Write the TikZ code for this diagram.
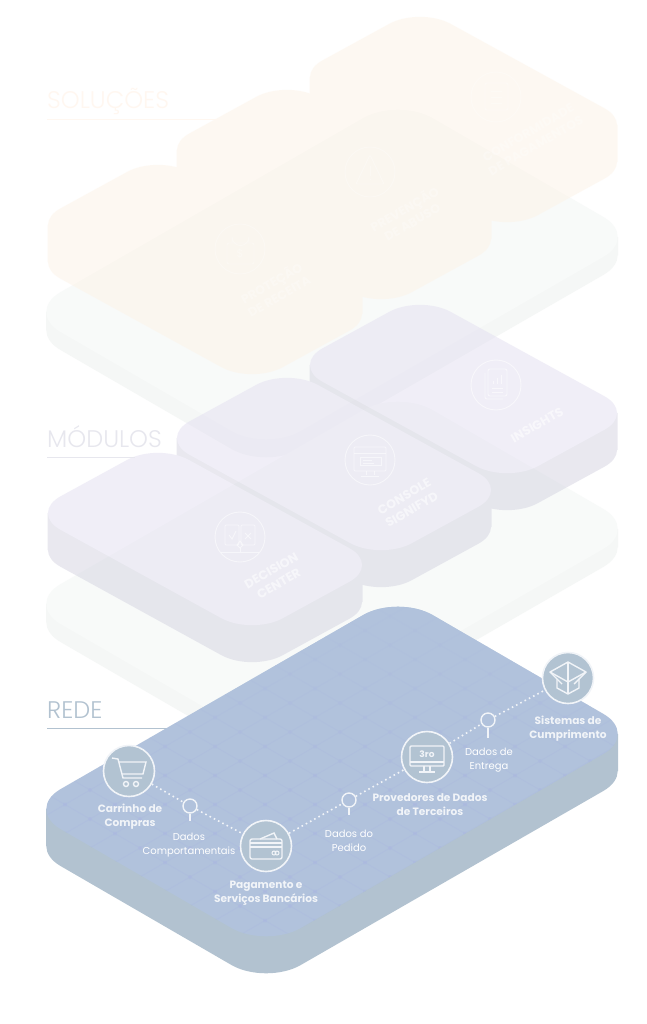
\documentclass[tikz,border=0pt]{standalone}
\usepackage{fontspec}
\setmainfont{Poppins}
\newfontfamily\headfont{Poppins Light}
\usetikzlibrary{calc, positioning, fadings}

\definecolor{greytop}{HTML}{F8FAF9}
\definecolor{greyside}{HTML}{F5F7F6}
\definecolor{creamface}{HTML}{FDF3E7}
\definecolor{violettop}{HTML}{E3DFF1}
\definecolor{violetside}{HTML}{D4D3E1}
\definecolor{redetop}{HTML}{B1C2DC}
\definecolor{redeside}{HTML}{B2C2D0}
\definecolor{redegrid}{HTML}{ABB8E0}
\definecolor{redecircle}{HTML}{B2C3D2}
\definecolor{ringwhite}{HTML}{F1F4F8}

% left corner, up vector, down vector, depth, radius, top, side
\newcommand{\isotile}[7]{
    \fill[#7, rounded corners=#5pt] ($(#1)+(0,#4)$) -- ++(#2) -- ++(#3) -- ++($(0,0)-(#2)$) -- cycle;
    \fill[#7] ($(#1)+(0.5*#5,0)$) -- ++(0,#4) -- ($(#1)+(#2)+(#3)+(-0.5*#5,#4)$) -- ++(0,-#4) -- cycle;
    \fill[#6, rounded corners=#5pt] (#1) -- ++(#2) -- ++(#3) -- ++($(0,0)-(#2)$) -- cycle;
}

\tikzset{
    redering/.style={circle, draw=ringwhite, fill=redecircle, line width=1.6pt, minimum size=51pt, inner sep=0pt},
    pinhead/.style={circle, draw=ringwhite, line width=1.4pt, minimum size=14pt, inner sep=0pt},
    pinstem/.style={draw=ringwhite, line width=1.4pt},
    dotline/.style={draw=ringwhite, line width=1.6pt, dash pattern=on 1.6pt off 3.2pt},
    boldlabel/.style={text=ringwhite, align=center, inner sep=0pt, font=\bfseries\fontsize{10.6}{14}\selectfont},
    thinlabel/.style={text=white, align=center, inner sep=0pt, font=\fontsize{10}{14}\selectfont},
    tilering/.style={circle, draw=white, draw opacity=0.55, line width=0.9pt, minimum size=50pt, inner sep=0pt},
    creamring/.style={circle, draw=white, draw opacity=0.3, line width=0.9pt, minimum size=50pt, inner sep=0pt},
    tilelabel/.style={text=white, text opacity=0.55, rotate=30, align=center, inner sep=0pt, font=\bfseries\fontsize{12.5}{15}\selectfont},
    creamlabel/.style={text=white, text opacity=0.3, rotate=30, align=center, inner sep=0pt, font=\bfseries\fontsize{12.5}{15}\selectfont},
    tileicon/.style={draw=white, draw opacity=0.55, line width=0.9pt},
    creamicon/.style={draw=white, draw opacity=0.3, line width=0.9pt},
    redeicon/.style={draw=ringwhite, line width=1.4pt},
    layertitle/.style={anchor=base west, inner sep=0pt, font=\headfont\fontsize{24}{28}\selectfont},
}

\begin{document}
\begin{tikzpicture}[x=1pt, y=-1pt]
    \fill[white] (0,0) rectangle (647,1024);

    % empty base plates
    \isotile{26,312}{372,-214}{240,139}{18}{40}{greytop}{greyside}
    \isotile{26,604}{372,-214}{240,139}{18}{40}{greytop}{greyside}

    % solucoes
    \begin{scope}[transparency group, opacity=0.5]
        \isotile{292,77}{128,-70}{215,118}{37}{35}{creamface}{creamface}
        \isotile{159,150}{128,-70}{222,122}{37}{35}{creamface}{creamface}
        \isotile{30,225}{128,-70}{222,122}{37}{35}{creamface}{creamface}
    \end{scope}

    % modulos
    \begin{scope}[transparency group, opacity=0.5]
        \isotile{292,365}{128,-70}{215,118}{37}{35}{violettop}{violetside}
        \isotile{159,438}{128,-70}{222,122}{37}{35}{violettop}{violetside}
        \isotile{30,513}{128,-70}{222,122}{37}{35}{violettop}{violetside}
    \end{scope}

    % titles
    \node[layertitle, text=orange!6] (titlesol) at (47,109) {SOLUÇÕES};
    \draw[orange!6, line width=0.6pt] (47,119) -- (220,119);
    \node[layertitle, text=violetside!55] (titlemod) at (47,447) {MÓDULOS};
    \draw[violetside!55, line width=0.6pt] (47,457) -- (135,457);
    \node[layertitle, text=redeside] (titlerede) at (47,718) {REDE};
    \draw[redeside, line width=0.8pt] (47,728) -- (175,728);

    % solucoes icons and labels
    \node[creamring] (revenue) at (240,249) {};
    \begin{scope}[shift={(revenue)}]
        \draw[creamicon, rounded corners=2pt] (-13,-6) rectangle (14,15);
        \draw[creamicon] (-8,-6) -- (-8,-12) arc (180:0:8.5) -- (9,-6);
        \node[text=white, text opacity=0.3, font=\fontsize{11}{11}\selectfont] (revenuesign) at (0,5) {\$};
    \end{scope}
    \node[creamlabel] (revenuetext) at (275,289) {PROTEÇÃO\\DE RECEITA};
    \node[creamring] (abuse) at (370,172) {};
    \begin{scope}[shift={(abuse)}]
        \draw[creamicon, rounded corners=1pt] (0,-17) -- (-14,12) -- (14,12) -- cycle;
        \draw[creamicon] (0,-6) -- (0,4) (0,7) -- (0,8.5);
    \end{scope}
    \node[creamlabel] (abusetext) at (408,215) {PREVENÇÃO\\DE ABUSO};
    \node[creamring] (compliance) at (496,97) {};
    \begin{scope}[shift={(compliance)}]
        \draw[creamicon, rounded corners=2pt] (-11,-14) rectangle (12,13);
        \draw[creamicon] (-5,-6) -- (6,-6) (-5,0) -- (6,0) (-5,6) -- (6,6);
    \end{scope}
    \node[creamlabel] (compliancetext) at (532,139) {CONFORMIDADE\\DE PAGAMENTOS};

    % modulos icons and labels
    \node[tilering] (decision) at (240,537) {};
    \begin{scope}[shift={(decision)}]
        \draw[tileicon, rounded corners=1pt] (-15,-12) rectangle (-1,8);
        \draw[tileicon, rounded corners=1pt] (1,-12) rectangle (15,8);
        \draw[tileicon] (-11,-2) -- (-8,2) -- (-4,-6);
        \draw[tileicon] (5,-4) -- (11,2) (11,-4) -- (5,2);
        \draw[tileicon] (0,4) -- (3,8) -- (0,11) -- (-3,8) -- cycle;
        \draw[tileicon] (-19,15) -- (19,15);
        \draw[tileicon] (0,11) -- (0,15);
    \end{scope}
    \node[tilelabel] (decisiontext) at (275,577) {DECISION\\CENTER};
    \node[tilering] (console) at (370,460) {};
    \begin{scope}[shift={(console)}]
        \draw[tileicon, rounded corners=1pt] (-16,-13) rectangle (16,11);
        \draw[tileicon] (-16,-7) -- (16,-7);
        \draw[tileicon] (-10,-3) rectangle (11,5);
        \draw[tileicon] (-7,0) -- (2,0) (-7,3) -- (4,3);
        \draw[tileicon] (-4,11) -- (-4,15) (4,11) -- (4,15) (-9,16) -- (9,16);
    \end{scope}
    \node[tilelabel] (consoletext) at (408,503) {CONSOLE\\SIGNIFYD};
    \node[tilering] (insights) at (496,385) {};
    \begin{scope}[shift={(insights)}]
        \draw[tileicon, rounded corners=2pt] (-11,-12) -- (-11,14) -- (7,14);
        \draw[tileicon, rounded corners=2pt] (-8,-16) rectangle (11,11);
        \draw[tileicon] (-3,-1) -- (-3,-4) (1,-1) -- (1,-7) (5,-1) -- (5,-10);
        \draw[tileicon] (-4,3) -- (7,3) (-4,7) -- (7,7);
    \end{scope}
    \node[tilelabel] (insightstext) at (537,425) {INSIGHTS};

    % rede
    \isotile{26,809}{372,-214}{240,139}{37}{40}{redetop}{redeside}
    \begin{scope}
        \clip[rounded corners=40pt] (26,809) -- ++(372,-214) -- ++(240,139) -- ++(-372,214) -- cycle;
        \foreach \i in {-19,...,19} {
            \draw[redegrid, line width=0.8pt, opacity=0.4] ($(390,703)+\i*(25,14.5)+(-500,290)$) -- ($(390,703)+\i*(25,14.5)+(500,-290)$);
            \draw[redegrid, line width=0.8pt, opacity=0.4] ($(390,703)+\i*(25,-14.5)+(-500,-290)$) -- ($(390,703)+\i*(25,-14.5)+(500,290)$);
            \foreach \j in {-19,...,19} {
                \fill[redegrid, opacity=0.55] ($(390,703)+\i*(25,14.5)+\j*(25,-14.5)$) circle[radius=2pt];
            }
        }
        \fill[redetop, path fading=south] (0,560) rectangle (650,800);
    \end{scope}

    \node[redering] (cart) at (129,771) {};
    \node[pinhead] (pinbehaviour) at (190,806) {};
    \node[redering] (wallet) at (266,846) {};
    \node[pinhead] (pinorder) at (349,800) {};
    \node[redering] (monitor) at (427,757) {};
    \node[pinhead] (pindelivery) at (488,720) {};
    \node[redering] (box) at (568,678) {};

    \draw[dotline] (cart) -- (pinbehaviour);
    \draw[dotline] (pinbehaviour) -- (wallet);
    \draw[dotline] (wallet) -- (pinorder);
    \draw[dotline] (pinorder) -- (monitor);
    \draw[dotline] (monitor) -- (pindelivery);
    \draw[dotline] (pindelivery) -- (box);

    \draw[pinstem] (pinbehaviour.south) -- ++(0,7);
    \draw[pinstem] (pinorder.south) -- ++(0,7);
    \draw[pinstem] (pindelivery.south) -- ++(0,10);

    \begin{scope}[shift={(cart)}]
        \draw[redeicon] (-17,-13) -- (-11,-12) -- (-6,7) -- (13,7);
        \draw[redeicon] (-10,-9) -- (17,-9) -- (14,3) -- (-7,3);
        \draw[redeicon] (-3,13) circle[radius=2.5pt] (7,13) circle[radius=2.5pt];
    \end{scope}
    \begin{scope}[shift={(wallet)}]
        \draw[redeicon, rounded corners=2pt] (-16,-7) rectangle (16,13);
        \draw[redeicon] (-16,-3) -- (16,-3) (-16,1) -- (16,1);
        \draw[redeicon] (-6,-7) -- (8,-13) -- (11,-7);
        \draw[redeicon, line width=1pt] (8,7) circle[radius=2pt] (11,7) circle[radius=2pt];
    \end{scope}
    \begin{scope}[shift={(monitor)}]
        \draw[redeicon, rounded corners=1pt] (-17,-11) rectangle (17,9);
        \draw[redeicon] (-17,5) -- (17,5);
        \draw[redeicon] (-3,9) -- (-3,14) (3,9) -- (3,14) (-8,15) -- (8,15);
        \node[text=ringwhite, inner sep=0pt, font=\bfseries\fontsize{9}{9}\selectfont] (thirdparty) at (0,-3) {3ro};
    \end{scope}
    \begin{scope}[shift={(box)}]
        \draw[redeicon, line join=round] (0,-16) -- (-18,-6) -- (0,4) -- (18,-6) -- cycle;
        \draw[redeicon, line join=round] (-18,-6) -- (-11,1) -- (-11,10) -- (0,16) -- (11,10) -- (11,1) -- (18,-6);
        \draw[redeicon] (0,4) -- (0,16) (0,-16) -- (0,4);
        \draw[redeicon] (-11,1) -- (-6,6) (11,1) -- (6,6);
    \end{scope}

    \node[boldlabel] (carttext) at (130,816.5) {Carrinho de\\Compras};
    \node[thinlabel] (behaviourtext) at (189,845.5) {Dados\\Comportamentais};
    \node[boldlabel] (wallettext) at (266,893.5) {Pagamento e\\Serviços Bancários};
    \node[thinlabel] (ordertext) at (349,840.5) {Dados do\\Pedido};
    \node[boldlabel] (monitortext) at (430,804.5) {Provedores de Dados\\de Terceiros};
    \node[thinlabel] (deliverytext) at (489,760.5) {Dados de\\Entrega};
    \node[boldlabel] (boxtext) at (568,728.5) {Sistemas de\\Cumprimento};
\end{tikzpicture}
\end{document}
